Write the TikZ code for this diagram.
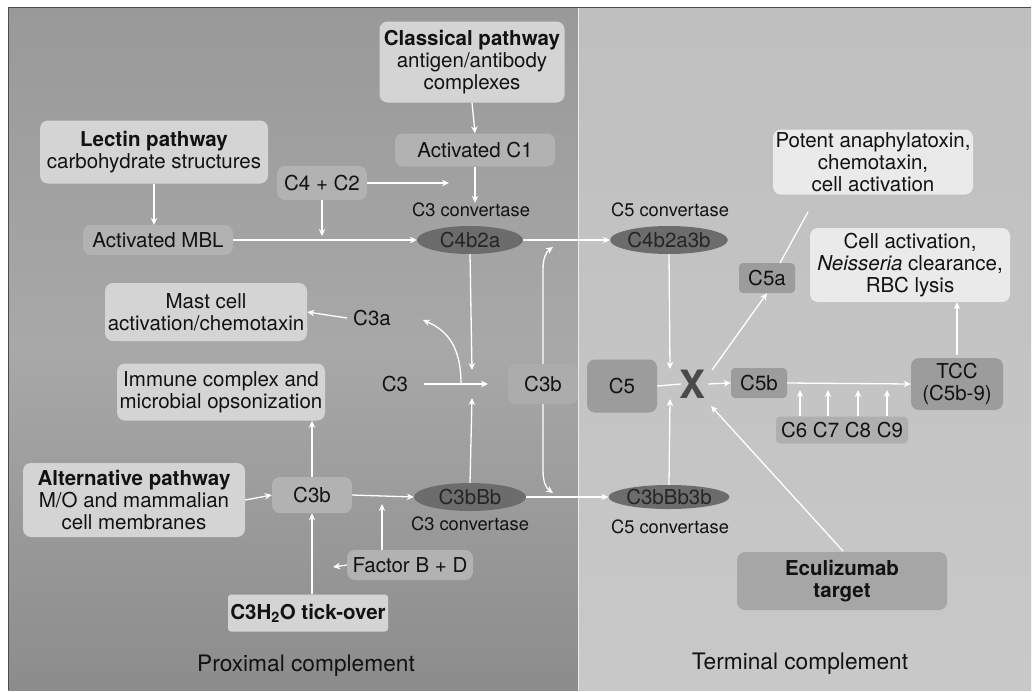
\documentclass[tikz,border=0pt]{standalone}
\usepackage{fontspec}
\setmainfont{TeX Gyre Heros}
\usetikzlibrary{arrows.meta,shapes.geometric}
\definecolor{txtc}{HTML}{121212}
\definecolor{leftA}{HTML}{999999}
\definecolor{leftB}{HTML}{A8A8A8}
\definecolor{leftC}{HTML}{8C8C8C}
\definecolor{rightA}{HTML}{BFBFBF}
\definecolor{rightB}{HTML}{C8C8C8}
\definecolor{boxlight}{HTML}{D4D4D4}
\definecolor{boxmid}{HTML}{B2B2B2}
\definecolor{boxwhite}{HTML}{EAEAEA}
\definecolor{boxdark}{HTML}{9C9C9C}
\definecolor{ellc}{HTML}{6C6C6C}
\definecolor{elltxt}{HTML}{252525}
\definecolor{xcol}{HTML}{4A4A4A}
\tikzset{
  arr/.style={draw=white, line width=1.3pt, -{Stealth[length=7pt,width=6.5pt]}},
  ln/.style={draw=white, line width=1.3pt},
  rbox/.style={rounded corners=8pt, align=center, inner sep=0pt, text=txtc},
  ell/.style={ellipse, fill=ellc, inner sep=0pt, text=elltxt},
  lbl/.style={align=center, inner sep=0pt, text=txtc},
}
\begin{document}
\begin{tikzpicture}[x=1pt,y=-1pt,font=\fontsize{20.5}{22}\selectfont]
\useasboundingbox (0,0) rectangle (1032,691);
\fill[white] (0,0) rectangle (1032,691);
% panels
\path[top color=leftA, bottom color=leftC, middle color=leftB] (8,7) rectangle (578,690);
\path[top color=rightA, bottom color=rightB] (578,7) rectangle (1031,690);
\draw[white!85!gray, line width=0.8pt] (578,7) -- (578,690);
\draw[gray!60!black, line width=0.8pt] (8,690) -- (8,7) -- (1031,7);

% ---------- proximal nodes ----------
\node[rbox, fill=boxlight, minimum width=185pt, minimum height=81pt] (classical) at (472,62)
  {\textbf{Classical pathway}\\antigen/antibody\\complexes};
\node[rbox, fill=boxmid, minimum width=160pt, minimum height=33pt] (c1) at (475,150) {Activated C1};
\node[rbox, fill=boxlight, minimum width=228pt, minimum height=63pt] (lectin) at (154,152)
  {\textbf{Lectin pathway}\\carbohydrate structures};
\node[rbox, fill=boxmid, minimum width=90pt, minimum height=34pt] (c4c2) at (322,183) {C4 + C2};
\node[rbox, fill=boxmid, minimum width=150pt, minimum height=30pt] (mbl) at (158,240) {Activated MBL};
\node[lbl, font=\fontsize{18.3}{20}\selectfont] (c3conv1) at (471,210) {C3 convertase};
\node[ell, minimum width=106pt, minimum height=28pt] (c4b2a) at (470,240) {C4b2a};

\node[rbox, fill=boxlight, minimum width=202pt, minimum height=58pt] (mast) at (206,312)
  {Mast cell\\activation/chemotaxin};
\node[lbl] (c3a) at (372,318) {C3a};
\node[rbox, fill=boxlight, minimum width=208pt, minimum height=57pt] (immune) at (221,392)
  {Immune complex and\\microbial opsonization};
\node[lbl] (c3) at (395,384) {C3};
\node[rbox, fill=leftB!60!boxmid, minimum width=70pt, minimum height=40pt] (c3bm) at (543,384) {C3b};

\node[rbox, fill=boxlight, minimum width=222pt, minimum height=74pt] (alt) at (134,500)
  {\textbf{Alternative pathway}\\M/O and mammalian\\cell membranes};
\node[rbox, fill=boxmid, minimum width=80pt, minimum height=36pt] (c3bl) at (312,495) {C3b};
\node[ell, minimum width=112pt, minimum height=28pt] (c3bbb) at (470,497) {C3bBb};
\node[lbl, font=\fontsize{18.3}{20}\selectfont] (c3conv2) at (470,524) {C3 convertase};
\node[rbox, fill=boxmid, minimum width=126pt, minimum height=30pt] (fbd) at (410,565) {Factor B + D};
\node[rbox, fill=boxlight, rounded corners=3pt, minimum width=160pt, minimum height=37pt] (c3h2o) at (308,613)
  {\textbf{C3H\textsubscript{2}O tick-over}};
\node[lbl, font=\fontsize{22.7}{25}\selectfont] (prox) at (306,666) {Proximal complement};

% ---------- terminal nodes ----------
\node[lbl, font=\fontsize{18.3}{20}\selectfont] (c5conv1) at (670,210) {C5 convertase};
\node[ell, minimum width=104pt, minimum height=28pt] (c4b2a3b) at (669,240) {C4b2a3b};
\node[ell, minimum width=104pt, minimum height=24pt] (c3bbb3b) at (669,497) {C3bBb3b};
\node[lbl, font=\fontsize{18.3}{20}\selectfont] (c5conv2) at (670,527) {C5 convertase};
\node[rbox, fill=boxdark, minimum width=70pt, minimum height=53pt] (c5) at (622,386) {C5};
\node[lbl, text=xcol, font=\fontsize{39}{40}\selectfont\bfseries] (xx) at (692,384) {X};
\node[rbox, rounded corners=4pt, fill=boxdark, minimum width=56pt, minimum height=30pt] (c5b) at (759,383) {C5b};
\node[rbox, rounded corners=4pt, fill=boxdark, minimum width=56pt, minimum height=30pt] (c5a) at (767,278) {C5a};
\node[rbox, fill=boxwhite, minimum width=200pt, minimum height=65pt] (potent) at (873,162)
  {Potent anaphylatoxin,\\chemotaxin,\\cell activation};
\node[rbox, fill=boxwhite, minimum width=200pt, minimum height=74pt] (cellact) at (910,265)
  {Cell activation,\\\textit{Neisseria} clearance,\\RBC lysis};
\node[rbox, fill=boxdark, minimum width=92pt, minimum height=52pt] (tcc) at (957,384) {TCC\\(C5b-9)};
\node[rbox, rounded corners=4pt, fill=rightA!75!gray, minimum width=132pt, minimum height=27pt] (c6c9) at (842,430) {C6 C7 C8 C9};
\node[rbox, fill=boxdark!70!rightA, minimum width=210pt, minimum height=58pt] (ecu) at (842,581)
  {\textbf{Eculizumab}\\\textbf{target}};
\node[lbl, font=\fontsize{22.7}{25}\selectfont] (term) at (800,664) {Terminal complement};

% ---------- named free ends ----------
\coordinate (j1) at (449,183);
\coordinate (j2) at (322,236);
\coordinate (j3) at (472,370);
\coordinate (j4) at (472,398);
\coordinate (j5) at (488,384);
\coordinate (j6) at (461,384);
\coordinate (j7) at (423,320);
\coordinate (j8) at (553,247);
\coordinate (j9) at (553,493);
\coordinate (j10) at (382,504);
\coordinate (j11) at (333,567);
\coordinate (j12) at (670,369);
\coordinate (j13) at (670,399);
\coordinate (j14) at (711,406);
\coordinate (j15) at (681,384);
\coordinate (j16) at (708,384);
\coordinate (j17) at (712,370);
\coordinate (j18) at (808,212);
\coordinate (j19) at (780,263);
\coordinate (j20) at (843,551);
\coordinate (cs1) at (800,390);
\coordinate (cs2) at (828,390);
\coordinate (cs3) at (858,390);
\coordinate (cs4) at (887,390);

% ---------- connectors ----------
\draw[arr] (classical.south) -- (c1.north);
\draw[arr] (c1.south) -- (c3conv1.north -| c1.south);
\draw[arr] (c4c2.east) -- (j1);
\draw[arr] (lectin.south) -- (lectin.south |- mbl.north);
\draw[arr] (c4c2.south) -- (j2);
\draw[arr] (mbl.east) -- (c4b2a.west);
\draw[arr] (c4b2a.east) -- (c4b2a3b.west);
\draw[arr] (c4b2a.south) -- (j3);
\draw[arr] (c3bbb.north) -- (j4);
\draw[arr] ([xshift=16pt]c3.east) -- (j5);
\draw[arr] (j6) .. controls (461,345) and (446,330) .. (j7);
\draw[arr] (c3a.west) ++(-6,0) -- (mast.east);
\draw[arr] (c3bm.north) -- (543,270) .. controls (543,258) and (546,252) .. (j8);
\draw[arr] (c3bm.south) -- (543,470) .. controls (543,482) and (546,488) .. (j9);
\draw[arr] (alt.east) -- (c3bl.west);
\draw[arr] (c3bl.east) -- (c3bbb.west);
\draw[arr] (c3bl.north) -- (immune.south -| c3bl.north);
\draw[arr] (c3h2o.north -| c3bl.south) -- (c3bl.south);
\draw[arr] (fbd.north -| j10) -- (j10);
\draw[arr] (fbd.west) -- (j11);
\draw[arr] (c3bbb.east) -- (c3bbb3b.west);
\draw[arr] (c4b2a3b.south) -- (j12);
\draw[arr] (c3bbb3b.north) -- (j13);
\draw[ln] (c5.east) -- (j15);
\draw[arr] (j16) -- (c5b.west);
\draw[arr] (j17) -- (c5a.south);
\draw[ln] (j19) -- (j18);
\draw[arr] (c5b.east) -- (tcc.west);
\draw[arr] (c6c9.north -| cs1) -- (cs1);
\draw[arr] (c6c9.north -| cs2) -- (cs2);
\draw[arr] (c6c9.north -| cs3) -- (cs3);
\draw[arr] (c6c9.north -| cs4) -- (cs4);
\draw[arr] (tcc.north) ++(0,-3) -- (cellact.south -| tcc.north);
\draw[arr] (j20) -- (j14);
\end{tikzpicture}
\end{document}
